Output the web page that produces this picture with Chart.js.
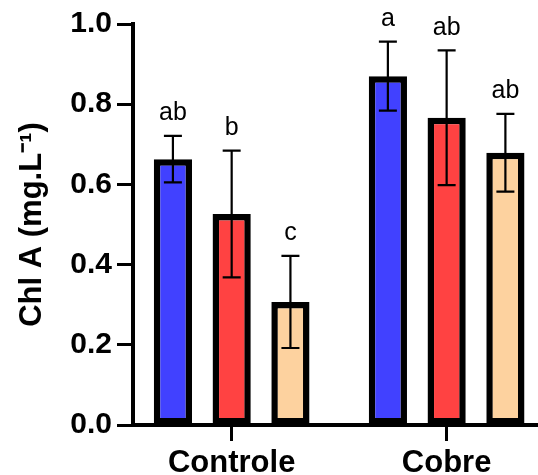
<!DOCTYPE html>
<html lang="pt">
<head>
  <meta charset="UTF-8">
  <title>Chl A</title>
  <script src="https://cdn.jsdelivr.net/npm/chart.js"></script>
  <style>
    html, body { margin: 0; padding: 0; background: #fff; }
  </style>
</head>
<body>
  <canvas id="chlChart" width="538" height="475"></canvas>

  <script>
    const categorias = ['Controle', 'Cobre'];
    const mediaAzul = [0.663, 0.870];
    const mediaVermelho = [0.526, 0.766];
    const mediaBege = [0.307, 0.679];
    const dpAzul = [0.058, 0.086];
    const dpVermelho = [0.158, 0.168];
    const dpBege = [0.115, 0.097];
    const letrasAzul = ['ab', 'a'];
    const letrasVermelho = ['b', 'ab'];
    const letrasBege = ['c', 'ab'];
    const yTicks = [0, 0.2, 0.4, 0.6, 0.8, 1.0];

    const FONTE = "'Liberation Sans', Arial, sans-serif";

    // categorias ficam em x = 1, 2 num eixo linear
    function pontos(vals) {
      return vals.map((v, i) => ({ x: i + 1, y: v }));
    }

    const series = [
      { media: mediaAzul, dp: dpAzul, letras: letrasAzul, cor: '#4141ff' },
      { media: mediaVermelho, dp: dpVermelho, letras: letrasVermelho, cor: '#ff4242' },
      { media: mediaBege, dp: dpBege, letras: letrasBege, cor: '#fdd29f' }
    ];

    // barras de erro + letras de significancia
    const errosPlugin = {
      id: 'erros',
      afterDatasetsDraw(chart) {
        const ctx = chart.ctx;
        const y = chart.scales.y;
        ctx.save();
        series.forEach((s, d) => {
          const meta = chart.getDatasetMeta(d);
          meta.data.forEach((bar, i) => {
            const topo = y.getPixelForValue(s.media[i] + s.dp[i]);
            const base = y.getPixelForValue(s.media[i] - s.dp[i]);
            const x = bar.x;
            ctx.strokeStyle = '#000';
            ctx.lineWidth = 2.2;
            ctx.beginPath();
            ctx.moveTo(x, topo); ctx.lineTo(x, base);
            ctx.moveTo(x - 9, topo); ctx.lineTo(x + 9, topo);
            ctx.moveTo(x - 9, base); ctx.lineTo(x + 9, base);
            ctx.stroke();

            ctx.fillStyle = '#000';
            ctx.font = '25px ' + FONTE;
            ctx.textAlign = 'center';
            ctx.textBaseline = 'bottom';
            ctx.fillText(s.letras[i], x, topo - 10);
          });
        });
        ctx.restore();
      }
    };

    new Chart(document.getElementById('chlChart'), {
      type: 'bar',
      data: {
        datasets: series.map(s => ({
          data: pontos(s.media),
          backgroundColor: s.cor,
          borderColor: '#000',
          borderWidth: 6.5,
          borderSkipped: false,
          categoryPercentage: 0.82,
          barPercentage: 0.65
        }))
      },
      options: {
        responsive: false,
        animation: false,
        layout: { padding: { top: 24, left: 0, right: 0, bottom: 0 } },
        plugins: {
          legend: { display: false },
          tooltip: { enabled: false }
        },
        scales: {
          x: {
            type: 'linear',
            min: 0.541,
            max: 2.425,
            offset: false,
            grid: {
              offset: false,
              drawOnChartArea: false,
              drawTicks: true,
              tickLength: 16,
              tickWidth: 3,
              tickColor: '#000'
            },
            border: { color: '#000', width: 4 },
            afterBuildTicks(scale) {
              scale.ticks = categorias.map((c, i) => ({ value: i + 1 }));
            },
            afterFit(scale) { scale.height = 50; },
            ticks: {
              color: '#000',
              padding: 4,
              maxRotation: 0,
              font: { family: FONTE, size: 31, weight: 'bold' },
              callback: v => categorias[v - 1]
            }
          },
          y: {
            min: 0,
            max: 1,
            grid: {
              drawOnChartArea: false,
              drawTicks: true,
              tickLength: 16,
              tickWidth: 3,
              tickColor: '#000'
            },
            border: { color: '#000', width: 4 },
            afterBuildTicks(scale) {
              scale.ticks = yTicks.map(v => ({ value: v }));
            },
            afterFit(scale) { scale.width = 133; },
            ticks: {
              color: '#000',
              padding: 5,
              font: { family: FONTE, size: 30, weight: 'bold' },
              callback: v => v.toFixed(1)
            },
            title: {
              display: true,
              text: 'Chl A (mg.L\u207B\u00B9)',
              color: '#000',
              padding: { top: 14, bottom: 0 },
              font: { family: FONTE, size: 31, weight: 'bold' }
            }
          }
        }
      },
      plugins: [errosPlugin]
    });
  </script>
</body>
</html>
